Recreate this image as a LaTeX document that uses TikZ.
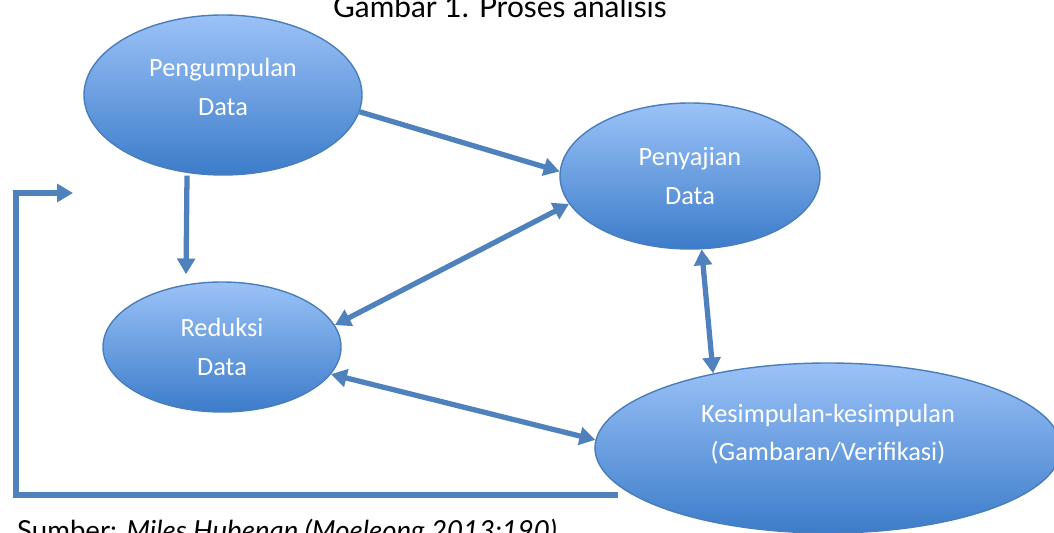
\documentclass[tikz,border=0pt]{standalone}
\usepackage{fontspec}
\setmainfont{Carlito}
\newfontfamily\captionfont{Lato}
\usepackage{tikz}
\usetikzlibrary{shapes.geometric}
\usetikzlibrary{arrows.meta}
\definecolor{ovalTop}{RGB}{155,194,247}
\definecolor{ovalBottom}{RGB}{60,124,202}
\definecolor{ovalLine}{RGB}{74,126,187}
\definecolor{arrowBlue}{RGB}{79,129,189}
\tikzset{flow/.style={draw=arrowBlue, line width=3pt, -{Triangle[width=10pt,length=9pt]}}}
\tikzset{twoway/.style={flow, {Triangle[width=10pt,length=9pt]}-{Triangle[width=10pt,length=9pt]}}}

\begin{document}
\begin{tikzpicture}
	% Default look of the ovals
	\tikzstyle{oval}=[draw=ovalLine, line width=0.8pt, shape=ellipse, top color=ovalTop, bottom color=ovalBottom, text=white, align=center, inner sep=0pt, font=\fontsize{15}{22}\selectfont];

	\useasboundingbox (0,0) rectangle (21.08,-10.66);

	% Caption and source
	\node[anchor=base, font=\captionfont\fontsize{17}{20}\selectfont] (title) at (10.0,-0.36) {Gambar 1. Proses analisis};
	\node[anchor=base west, font=\captionfont\fontsize{15.7}{20}\selectfont] (source) at (0.22,-10.8) {Sumber: \textit{Miles Hubenan (Moeleong 2013:190)}};

	% Ovals
	\node[oval, minimum width=5.56cm, minimum height=3.2cm, text depth=0.32cm] (kumpul) at (4.46,-1.9) {Pengumpulan\\Data};
	\node[oval, minimum width=5.2cm, minimum height=2.92cm] (sajian) at (13.8,-3.52) {Penyajian\\Data};
	\node[oval, minimum width=4.76cm, minimum height=2.6cm] (reduksi) at (4.44,-6.94) {Reduksi\\Data};
	\node[oval, minimum width=9.32cm, minimum height=3.4cm, text depth=0.62cm] (simpul) at (16.56,-8.96) {Kesimpulan-kesimpulan\\(Gambaran/Verifikasi)};

	% Feedback line
	\coordinate (loop start) at (12.36,-9.9);
	\coordinate (loop southwest) at (0.32,-9.9);
	\coordinate (loop northwest) at (0.32,-3.86);
	\coordinate (loop end) at (1.46,-3.86);

	% Arrows
	\draw[flow] (kumpul.-7) -- (sajian.178);
	\draw[flow] ([xshift=-0.72cm]kumpul.south) -- ([xshift=-0.72cm, yshift=0.14cm]reduksi.north);
	\draw[twoway] (sajian.193) -- (reduksi.11);
	\draw[twoway] (reduksi.-14) -- (simpul.178);
	\draw[twoway] (sajian.-81) -- (simpul.147);

	\draw[flow] (loop start) -- (loop southwest) -- (loop northwest) -- (loop end);

\end{tikzpicture}
\end{document}
